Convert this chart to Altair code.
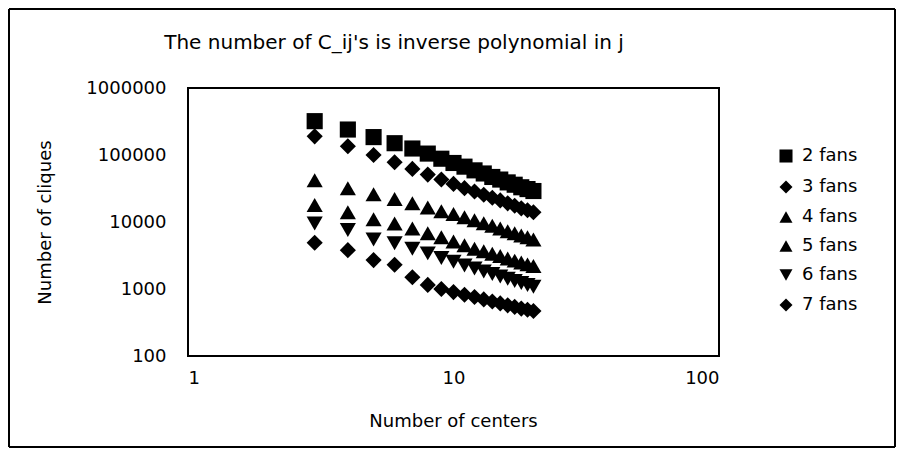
import altair as alt
import pandas as pd

centers = list(range(3, 21))

fans_2 = [320000, 240000, 185000, 150000, 125000, 105000, 88000, 76000, 67000,
          59000, 53000, 47000, 43000, 39000, 36000, 33000, 31000, 29000]
fans_3 = [190000, 135000, 100000, 78000, 62000, 51000, 43000, 37000, 32000,
          28500, 25500, 23000, 21000, 19000, 17500, 16000, 15000, 14000]
fans_4 = [42000, 32000, 26000, 22000, 19000, 16500, 14500, 13200, 11800,
          10600, 9600, 8800, 8000, 7300, 6800, 6300, 5900, 5500]
fans_5 = [18000, 14000, 11000, 9500, 8000, 6800, 5900, 5100, 4500,
          4000, 3650, 3350, 3100, 2850, 2650, 2480, 2330, 2200]
fans_6 = [9500, 7600, 5500, 4800, 4000, 3400, 2900, 2550, 2250,
          2020, 1830, 1680, 1540, 1420, 1320, 1230, 1150, 1080]
fans_7 = [4900, 3800, 2700, 2300, 1500, 1150, 1000, 900, 820,
          760, 700, 650, 610, 570, 540, 510, 490, 470]

series_names = ["2 fans", "3 fans", "4 fans", "5 fans", "6 fans", "7 fans"]
series_values = [fans_2, fans_3, fans_4, fans_5, fans_6, fans_7]
series_shapes = ["square", "diamond", "triangle-up", "triangle-up", "triangle-down", "diamond"]

x_ticks = [1, 10, 100]
y_ticks = [100, 1000, 10000, 100000, 1000000]

title_text = "The number of C_ij's is inverse polynomial in j"

rows = []
for order, (name, vals) in enumerate(zip(series_names, series_values)):
    for c, v in zip(centers, vals):
        rows.append({"series": name, "centers": c, "cliques": v, "order": order})
df = pd.DataFrame(rows)

FONT = "DejaVu Sans"
FS = 18

points = alt.Chart(df).mark_point(filled=True, opacity=1, color="black", size=260).encode(
    x=alt.X("centers:Q",
            scale=alt.Scale(type="log", domain=[1, 100]),
            axis=alt.Axis(values=x_ticks, format="d", title="Number of centers",
                          domain=False, ticks=False, grid=False, labelPadding=13,
                          labelFontSize=FS, titleFontSize=FS, titleFontWeight="normal",
                          titleX=265, titleY=65, titleAnchor="middle", titleBaseline="middle",
                          labelFont=FONT, titleFont=FONT, labelColor="black",
                          titleColor="black")),
    y=alt.Y("cliques:Q",
            scale=alt.Scale(type="log", domain=[100, 1000000]),
            axis=alt.Axis(values=y_ticks, format="d", title="Number of cliques",
                          domain=False, ticks=False, grid=False, labelPadding=22,
                          labelFontSize=FS, titleFontSize=FS, titleFontWeight="normal",
                          titleX=-143, titleY=134, titleAngle=-90,
                          titleAlign="center", titleBaseline="middle",
                          labelFont=FONT, titleFont=FONT, labelColor="black",
                          titleColor="black")),
    shape=alt.Shape("series:N",
                    scale=alt.Scale(domain=series_names, range=series_shapes),
                    legend=alt.Legend(title=None, orient="none", legendX=589, legendY=59,
                                      labelFontSize=FS, labelFont=FONT, labelColor="black",
                                      symbolSize=170, symbolFillColor="black",
                                      symbolStrokeColor="black", symbolOpacity=1,
                                      rowPadding=11, labelOffset=7)),
    order=alt.Order("order:Q"),
)

# outer frame of the whole chart (decoration, pixels relative to the plot area)
frame_df = pd.DataFrame({"k": [0]})
base_frame = alt.Chart(frame_df).mark_rule(color="black", strokeWidth=2)
frame_top = base_frame.encode(x=alt.value(-179), x2=alt.value(707), y=alt.value(-79))
frame_bottom = base_frame.encode(x=alt.value(-179), x2=alt.value(707), y=alt.value(359))
frame_left = base_frame.encode(x=alt.value(-179), y=alt.value(-79), y2=alt.value(359))
frame_right = base_frame.encode(x=alt.value(707), y=alt.value(-79), y2=alt.value(359))

title_df = pd.DataFrame({"t": [title_text]})
title = alt.Chart(title_df).mark_text(font=FONT, fontSize=20, color="black",
                                      align="center", baseline="middle").encode(
    text="t:N", x=alt.value(206), y=alt.value(-45)
)

chart = alt.layer(frame_top, frame_bottom, frame_left, frame_right, points, title).properties(
    width=531, height=268,
    autosize=alt.AutoSizeParams(type="none"),
    padding={"left": 180, "top": 80, "right": 177, "bottom": 92},
).configure(background="white").configure_view(stroke="black", strokeWidth=2)

chart.save("out.html", embed_options={"renderer": "svg", "actions": False})
